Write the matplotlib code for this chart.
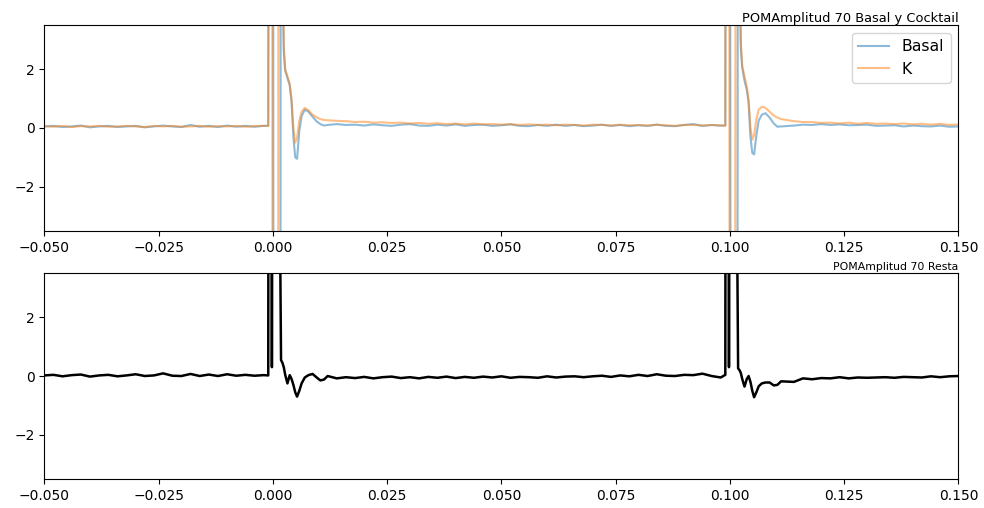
import numpy as np
import matplotlib
matplotlib.use('Agg')
import matplotlib.pyplot as plt

# Time axis: coarse baseline, fine sampling around each stimulus artefact
spike_offsets = [-0.0010, -0.0008, -0.0003, -0.0002, 0.0000, 0.0002, 0.0011,
                 0.0013, 0.0016, 0.0018, 0.0021, 0.0024, 0.0027, 0.0032,
                 0.0037, 0.0041, 0.0045, 0.0049, 0.0053, 0.0058, 0.0063,
                 0.0070, 0.0078, 0.0087, 0.0096, 0.0104, 0.0112]
spike_times = [0.0, 0.1]

# Basal (top panel, blue)
basal_pre = [0.05, 0.07, 0.03, 0.05, 0.08, 0.02, 0.05, 0.07, 0.03, 0.05,
             0.07, 0.02, 0.05, 0.08, 0.05, 0.03, 0.10, 0.04, 0.07, 0.03,
             0.08, 0.04, 0.07, 0.04, 0.07]
basal_spike1 = [0.07, 25, 25, 25, 25, -25, -25, -25, -25, 25, 6.0, 2.6, 1.95,
                1.7, 1.45, 0.9, -0.3, -1.0, -1.05, -0.1, 0.4, 0.62, 0.55,
                0.38, 0.22, 0.13, 0.08]
basal_mid = [0.10, 0.13, 0.10, 0.11, 0.08, 0.12, 0.09, 0.07, 0.11, 0.13,
             0.08, 0.07, 0.11, 0.08, 0.12, 0.07, 0.10, 0.11, 0.07, 0.09,
             0.12, 0.07, 0.06, 0.10, 0.07, 0.11, 0.07, 0.10, 0.06, 0.08,
             0.11, 0.07, 0.10, 0.06, 0.09, 0.07, 0.11, 0.07, 0.06, 0.10,
             0.13, 0.07, 0.10, 0.08]
basal_spike2 = [0.08, 25, 25, 25, 25, -25, -25, -25, -25, 25, 6.0, 2.7, 2.05,
                1.6, 1.3, 0.85, -0.3, -0.85, -0.9, -0.25, 0.25, 0.45, 0.5,
                0.35, 0.15, 0.04, 0.05]
basal_post = [0.08, 0.11, 0.10, 0.13, 0.10, 0.12, 0.09, 0.10, 0.11, 0.07,
              0.08, 0.09, 0.05, 0.08, 0.06, 0.05, 0.08, 0.04, 0.05]

# K (top panel, orange)
k_pre = [0.06, 0.04, 0.07, 0.03, 0.06, 0.05, 0.07, 0.04, 0.05, 0.07,
         0.05, 0.03, 0.07, 0.05, 0.07, 0.04, 0.05, 0.07, 0.04, 0.06,
         0.05, 0.07, 0.04, 0.06, 0.07]
k_spike1 = [0.07, 25, 25, 25, -25, -25, -25, 25, 25, 25, 6.5, 2.8, 2.0,
            1.75, 1.5, 0.95, 0.0, -0.5, -0.35, 0.25, 0.55, 0.68, 0.6,
            0.45, 0.36, 0.3, 0.27]
k_mid = [0.26, 0.24, 0.23, 0.20, 0.21, 0.18, 0.19, 0.17, 0.18, 0.15,
         0.17, 0.14, 0.16, 0.13, 0.15, 0.12, 0.15, 0.12, 0.13, 0.11,
         0.13, 0.10, 0.12, 0.10, 0.11, 0.09, 0.11, 0.10, 0.08, 0.11,
         0.10, 0.08, 0.11, 0.09, 0.10, 0.08, 0.11, 0.09, 0.07, 0.10,
         0.10, 0.08, 0.10, 0.08]
k_spike2 = [0.08, 25, 25, 25, -25, -25, -25, 25, 25, 25, 6.5, 2.9, 2.1,
            1.75, 1.4, 0.95, 0.0, -0.4, -0.25, 0.3, 0.62, 0.72, 0.68,
            0.55, 0.42, 0.35, 0.3]
k_post = [0.23, 0.20, 0.20, 0.17, 0.18, 0.15, 0.18, 0.14, 0.17, 0.14,
          0.15, 0.13, 0.15, 0.12, 0.14, 0.11, 0.14, 0.10, 0.12]

# Resta (bottom panel, black)
resta_pre = [0.02, 0.04, -0.01, 0.03, 0.05, -0.02, 0.02, 0.04, -0.01, 0.02,
             0.06, 0.00, 0.02, 0.09, 0.01, 0.00, 0.07, 0.00, 0.05, 0.00,
             0.06, 0.01, 0.04, 0.01, 0.03]
resta_spike1 = [0.02, 30, 30, 0.3, 30, 30, 30, 30, 4.5, 0.54, 0.45, 0.3,
                0.05, -0.25, 0.03, -0.1, -0.3, -0.55, -0.7, -0.5, -0.25,
                -0.05, 0.03, 0.07, -0.05, -0.15, -0.12]
resta_mid = [0.0, -0.08, -0.04, -0.07, -0.03, -0.08, -0.04, -0.02, -0.07, -0.04,
             -0.08, -0.03, -0.06, -0.02, -0.07, -0.03, -0.06, -0.02, -0.05, -0.01,
             -0.06, -0.03, -0.04, -0.06, -0.01, -0.05, -0.02, -0.01, -0.04, -0.01,
             0.01, -0.03, 0.02, -0.01, 0.04, 0.00, 0.06, 0.01, 0.00, 0.04,
             0.03, 0.08, 0.00, -0.05]
resta_spike2 = [0.04, 30, 30, 0.3, 30, 30, 30, 30, 4.5, 0.26, 0.2, 0.1,
                -0.1, -0.36, -0.1, 0.0, -0.2, -0.5, -0.72, -0.55, -0.35,
                -0.25, -0.22, -0.22, -0.32, -0.3, -0.18]
resta_post = [-0.2, -0.08, -0.11, -0.07, -0.08, -0.04, -0.08, -0.05, -0.06, -0.05,
              -0.04, -0.06, -0.03, -0.04, -0.05, -0.01, -0.04, -0.01, 0.00]

offs = np.array(spike_offsets)
t = np.concatenate([np.linspace(-0.050, -0.002, 25), spike_times[0] + offs,
                    np.linspace(0.012, 0.098, 44), spike_times[1] + offs,
                    np.linspace(0.114, 0.150, 19)])
basal = np.concatenate([basal_pre, basal_spike1, basal_mid, basal_spike2, basal_post])
k = np.concatenate([k_pre, k_spike1, k_mid, k_spike2, k_post])
resta = np.concatenate([resta_pre, resta_spike1, resta_mid, resta_spike2, resta_post])

fig, (ax1, ax2) = plt.subplots(2, 1, figsize=(9.84, 5.08), dpi=100)
fig.subplots_adjust(left=0.045, right=0.974, top=0.951, bottom=0.057, hspace=0.204)

ax1.plot(t, basal, alpha=0.5, label='Basal')
ax1.plot(t, k, alpha=0.5, label='K')
ax1.legend(loc='upper right', fontsize=11.3)
ax1.set_title('POMAmplitud 70 Basal y Cocktail', fontsize=9.4, loc='right', pad=2)

ax2.plot(t, resta, color='black', lw=1.8)
ax2.set_title('POMAmplitud 70 Resta', fontsize=7.8, loc='right', pad=2)

for ax in (ax1, ax2):
    ax.set_xlim(-0.05, 0.15)
    ax.set_ylim(-3.5, 3.5)
    ax.set_yticks([-2, 0, 2])
    ax.tick_params(labelsize=10)

plt.savefig('out.png')
